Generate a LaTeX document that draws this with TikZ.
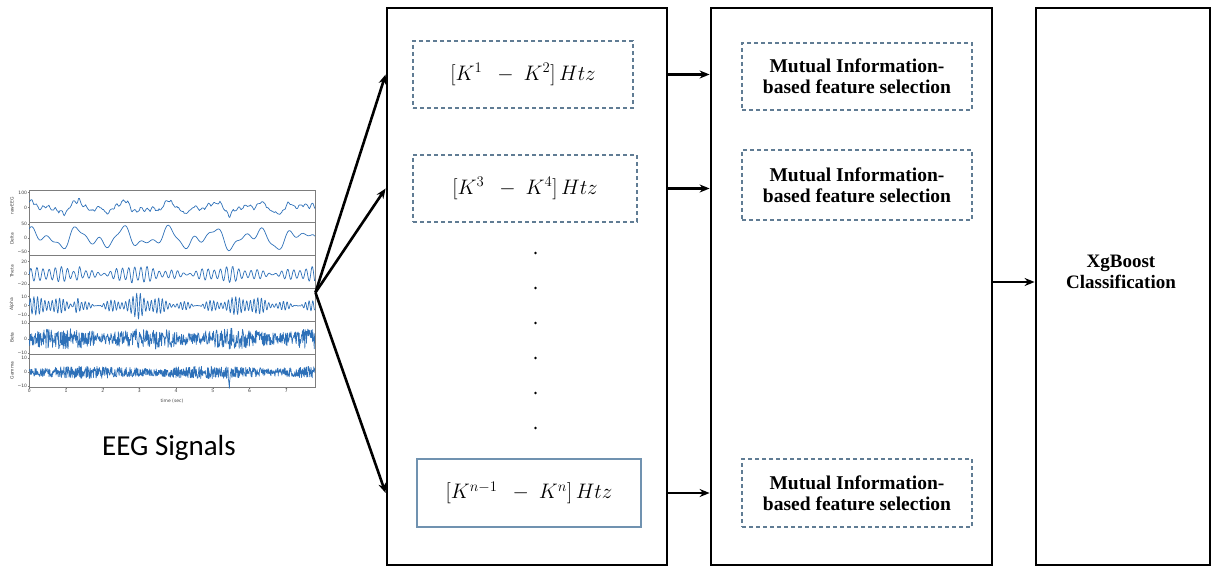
\RequirePackage{fix-cm}
\documentclass[tikz,border=0pt]{standalone}
\usepackage[no-math]{fontspec}
\setmainfont{Liberation Serif}
\setsansfont{DejaVu Sans}
\newfontfamily\calib{Carlito}
\usetikzlibrary{arrows.meta}
\definecolor{dashcol}{RGB}{96,124,148}
\definecolor{linecol}{RGB}{112,146,176}
\definecolor{sigcol}{RGB}{45,112,184}
\definecolor{axcol}{RGB}{125,125,125}
\pgfmathsetseed{7}

\begin{document}
\begin{tikzpicture}[  > = {Stealth[length=10pt,width=8pt]},  x = 1pt,  y = 1pt,  thick,
  bigbox/.style = {draw, line width=2.8pt, inner sep=0pt},
  band/.style = {draw=dashcol, dash pattern=on 4pt off 3pt, line width=1.1pt, minimum width=220, minimum height=67, font=\fontsize{21}{25}\selectfont},
  mibox/.style = {band, minimum width=230, align=center, font=\bfseries\fontsize{19.5}{21}\selectfont},
  dotnode/.style = {circle, fill, inner sep=0pt, minimum size=2.8pt},
  axlab/.style = {font=\sffamily\fontsize{4.5}{5}\selectfont, inner sep=0.6pt, text=black!75},
  sig/.style = {sigcol, line width=0.7pt, line join=round},
  fanarr/.style = {->, line width=2.6pt},
  arr/.style = {->, line width=2.5pt},
  declare function = {
    bump(\t,\c,\w) = max(0,1-abs(\t-\c)/\w);
    dl(\t) = 25*sin(300*\t+40)+18*sin(560*\t+100)+10*sin(980*\t+10);
    th(\t) = (8+4*sin(150*\t)+3*sin(470*\t+30)+12*bump(\t,1.35,0.12)+8*bump(\t,2.8,0.15))*sin(2160*frac(\t));
    al(\t) = (5+3*sin(130*\t+50)+2.5*sin(530*\t)+8*bump(\t,1.3,0.12)+6*bump(\t,3.0,0.2))*sin(3600*frac(\t));
    be(\t) = (3.5+3.5*abs(sin(77*\t+20)))*rand;
    ga(\t) = (2.6+2*abs(sin(55*\t)))*rand-8*bump(\t,5.45,0.03)+6*bump(\t,6.3,0.03);
  }]
  \useasboundingbox (0,0) rectangle (1214,568);

  % Define nodes
  \node (E) [draw=axcol, line width=0.5pt, minimum width=286, minimum height=197] at (172.2,279.5) {};
  \node (L) [font=\calib\fontsize{29}{34}\selectfont] at (169,120) {EEG Signals};
  \node (F) [bigbox, minimum width=280, minimum height=557] at (527,281.5) {};
  \node (S) [bigbox, minimum width=281, minimum height=557] at (851.5,281.5) {};
  \node (X) [bigbox, minimum width=174, minimum height=557] at (1123,281.5) {};
  \node (F1) [band] at (523,493.5) {$[K^{1}\ \ -\ K^{2}]\,Htz$};
  \node (F2) [band, minimum width=224] at (525,379.5) {$[K^{3}\ \ -\ K^{4}]\,Htz$};
  \node (Fn) [band, draw=linecol, solid, minimum width=224, minimum height=68] at (529,75) {$[K^{n-1}\ \ -\ K^{n}]\,Htz$};
  \node (S1) [mibox] at (857,491.5) {Mutual Information-\\based feature selection};
  \node (S2) [mibox, minimum height=70] at (857,383) {Mutual Information-\\based feature selection};
  \node (Sn) [mibox, minimum height=68] at (857,75) {Mutual Information-\\based feature selection};
  \node (T) [font=\bfseries\fontsize{19}{21}\selectfont, align=center] at (1121,296) {XgBoost\\Classification};
  \foreach \i in {1,...,6}
    \node (d\i) [dotnode] at (535.5,{350-35*\i}) {};
  \coordinate (src) at ([yshift=-4pt]E.east);

  % EEG panels
  \foreach \y in {346,313,280,247,214}
    \draw[axcol, line width=0.5pt] (29.3,\y) -- (315.1,\y);
  \foreach \lab/\y in {rawEEG/362, Delta/329.5, Theta/296.5, Alpha/263.5, Beta/230.5, Gamma/197.5}
    \node[axlab, rotate=90] at (12,\y) {\lab};
  \foreach \lab/\y in {100/375.3, 0/360.3, 50/343.7, 0/329.7, −50/316.3, 20/306.3, 0/293.7, −20/283.7, 10/271.3, 0/262.3, −10/253, 10/244.7, 0/229.3, −10/214.7, 10/209.7, 0/195.7, −10/182.3}
    \draw[axcol, line width=0.4pt] (29.3,\y) -- ++(-1.5,0) node[axlab, left] {\lab};
  \foreach \k in {0,...,7}
    \draw[axcol, line width=0.4pt] ({29.3+36.7*\k},181) -- ++(0,-1.5) node[axlab, below] {\k};
  \node[axlab] at (172,167.3) {time (sec)};
  \draw[sig] plot[domain=0:7.78, samples=320] ({29.3+36.7*\x}, {360.3+0.15*(dl(\x)+th(\x))+6*bump(\x,1.35,0.05)+0.8*rand});
  \draw[sig] plot[domain=0:7.78, samples=200, smooth] ({29.3+36.7*\x}, {329.7+0.27*dl(\x)});
  \draw[sig] plot[domain=0:7.78, samples=420] ({29.3+36.7*\x}, {293.7+0.56*th(\x)});
  \draw[sig] plot[domain=0:7.78, samples=620] ({29.3+36.7*\x}, {262.3+0.9*al(\x)});
  \draw[sig] plot[domain=0:7.78, samples=700] ({29.3+36.7*\x}, {229.3+1.5*be(\x)});
  \draw[sig] plot[domain=0:7.78, samples=900] ({29.3+36.7*\x}, {195.7+1.37*ga(\x)});

  % Draw arrows
  \draw[fanarr] (src) -- (F1 -| F.west);
  \draw[fanarr] (src) -- (F2 -| F.west);
  \draw[fanarr] (src) -- (Fn -| F.west);
  \foreach \n in {1,2,n}
    \draw[arr] (F\n -| F.east) -- (F\n -| S.west);
  \draw[arr] ([yshift=4.5pt]S.east) -- ([yshift=4.5pt]X.west);
\end{tikzpicture}
\end{document}
